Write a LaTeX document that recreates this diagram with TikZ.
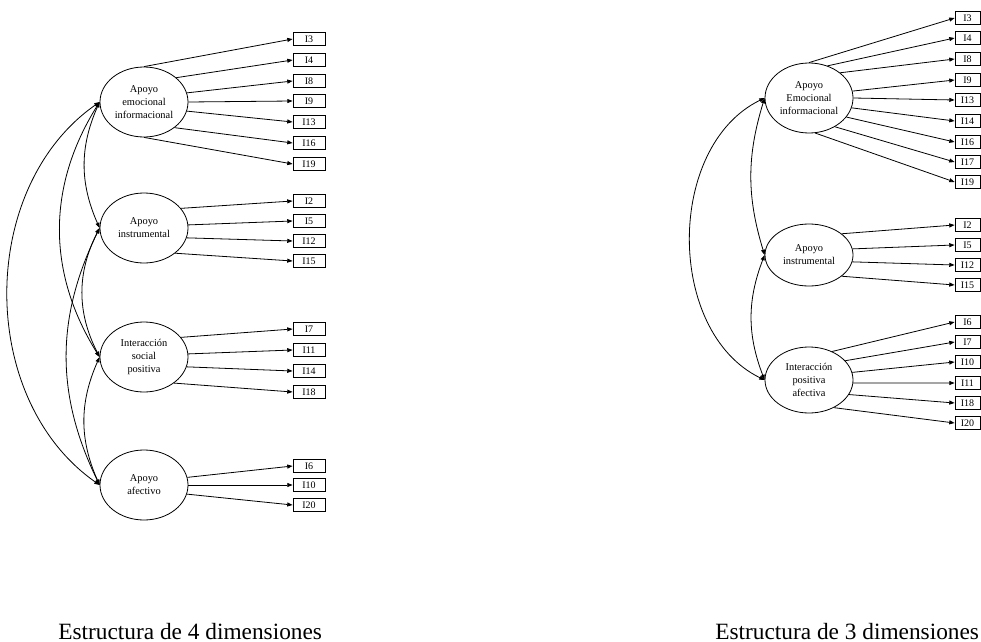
\documentclass[tikz,border=0pt]{standalone}
\usepackage{fontspec}
\setmainfont{Liberation Serif}
\usetikzlibrary{shapes.geometric, arrows.meta}

\begin{document}
\begin{tikzpicture}[
    x=0.75pt, y=-0.75pt,
    factor/.style={ellipse, draw=black, line width=0.6pt, inner sep=0pt, minimum width=66pt, minimum height=52.5pt, align=center, font=\fontsize{7.8}{9.75}\selectfont},
    itembox/.style={rectangle, draw=black, line width=0.6pt, inner sep=0pt, minimum width=24pt, minimum height=9.75pt, font=\fontsize{7.5}{8}\selectfont},
    itembox3/.style={itembox, minimum width=18.75pt},
    load/.style={line width=0.6pt, -{Triangle[length=4pt, width=3pt]}},
    cov/.style={line width=0.6pt, {Triangle[length=4pt, width=3pt]}-{Triangle[length=4pt, width=3pt]}},
    caption/.style={font=\fontsize{17.5}{20}\selectfont}
]
    \clip (0,0) rectangle (981,642);

    % --- Estructura de 4 dimensiones ---
    \node[factor] (emo4) at (144,102) {Apoyo\\emocional\\informacional};
    \node[factor] (ins4) at (144,228) {Apoyo\\instrumental};
    \node[factor] (soc4) at (144,357) {Interacción\\social\\positiva};
    \node[factor] (afe4) at (144,485) {Apoyo\\afectivo};

    \foreach \n/\y/\a in {3/39/90, 4/60/37, 8/81/12, 9/101/0, 13/122/-12, 16/143/-40, 19/164/-90} {
        \node[itembox] (l\n) at (309,\y) {I\n};
        \draw[load] (emo4.\a) -- (l\n.west);
    }
    \foreach \n/\y/\a in {2/201/28, 5/221/4, 12/241/-13, 15/261/-39} {
        \node[itembox] (l\n) at (309,\y) {I\n};
        \draw[load] (ins4.\a) -- (l\n.west);
    }
    \foreach \n/\y/\a in {7/329/28, 11/350/4, 14/371/-13, 18/392/-41} {
        \node[itembox] (l\n) at (309,\y) {I\n};
        \draw[load] (soc4.\a) -- (l\n.west);
    }
    \foreach \n/\y/\a in {6/466/10, 10/485/0, 20/505/-12} {
        \node[itembox] (l\n) at (309,\y) {I\n};
        \draw[load] (afe4.\a) -- (l\n.west);
    }

    % covariances
    \draw[cov] (emo4.west) to[out=246, in=114] (ins4.west);
    \draw[cov] (emo4.west) to[out=238, in=122] (soc4.west);
    \draw[cov] (emo4.west) to[out=215, in=145] (afe4.west);
    \draw[cov] (ins4.west) to[out=243, in=117] (soc4.west);
    \draw[cov] (ins4.west) to[out=244, in=116] (afe4.west);
    \draw[cov] (soc4.west) to[out=246, in=114] (afe4.west);

    \node[caption, anchor=base west, inner sep=0pt] (cap4) at (58,639) {Estructura de 4 dimensiones};

    % --- Estructura de 3 dimensiones ---
    \node[factor] (emo3) at (809,98) {Apoyo\\Emocional\\informacional};
    \node[factor, minimum height=46.5pt] (ins3) at (809,255) {Apoyo\\instrumental};
    \node[factor, minimum height=49.5pt] (int3) at (809,380) {Interacción\\positiva\\afectiva};

    \foreach \n/\y/\a in {3/18/90, 4/38/60, 8/59/39, 9/80/9, 13/100/0, 14/121/-13, 16/142/-27, 17/162/-48, 19/182/-80} {
        \node[itembox3] (r\n) at (967.5,\y) {I\n};
        \draw[load] (emo3.\a) -- (r\n.west);
    }
    \foreach \n/\y/\a in {2/225/33, 5/245/8, 12/265/-9, 15/285/-33} {
        \node[itembox3] (r\n) at (967.5,\y) {I\n};
        \draw[load] (ins3.\a) -- (r\n.west);
    }
    \foreach \n/\y/\a in {6/322/51, 7/342/28, 10/362/10, 11/383/-4, 18/403/-20, 20/423/-48} {
        \node[itembox3] (r\n) at (967.5,\y) {I\n};
        \draw[load] (int3.\a) -- (r\n.west);
    }

    % covariances
    \draw[cov] (emo3.west) to[out=253, in=107] (ins3.west);
    \draw[cov] (emo3.west) to[out=206, in=154] (int3.west);
    \draw[cov] (ins3.west) to[out=249, in=111] (int3.west);

    \node[caption, anchor=base west, inner sep=0pt] (cap3) at (715,639) {Estructura de 3 dimensiones};
\end{tikzpicture}
\end{document}
